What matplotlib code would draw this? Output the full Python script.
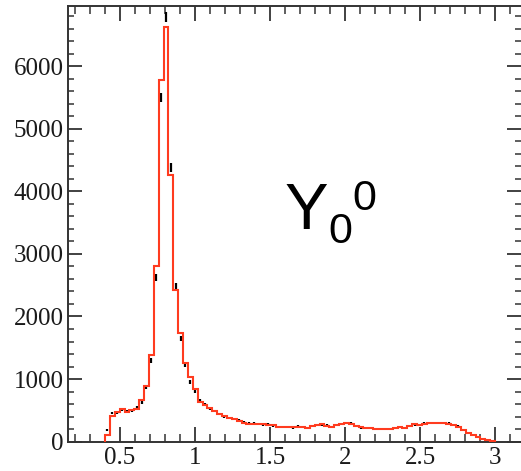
import numpy as np
import matplotlib
matplotlib.use("Agg")
import matplotlib.pyplot as plt
from matplotlib.ticker import MultipleLocator

# ---- data ----
bin_lo = 0.4
bin_hi = 3.0
n_bins = 80

fit_counts = [100, 415, 480, 530, 470, 505, 520, 660, 885, 1390,
              2805, 5770, 6630, 4265, 2430, 1729, 1260, 1037, 836, 638,
              590, 540, 495, 440, 410, 375, 365, 330, 300, 290,
              290, 280, 275, 270, 265, 235, 235, 230, 230, 240,
              230, 215, 250, 265, 275, 250, 230, 260, 290, 295,
              290, 250, 230, 225, 225, 200, 200, 195, 200, 220,
              230, 215, 250, 275, 260, 285, 295, 295, 300, 300,
              285, 270, 240, 190, 140, 100, 75, 50, 30, 15]

data_counts = [190, 460, 470, 520, 490, 500, 545, 630, 870, 1300,
               2620, 5500, 6780, 4380, 2480, 1650, 1230, 950, 800, 650,
               590, 530, 490, 440, 400, 380, 365, 340, 310, 290,
               300, 285, 270, 275, 255, 240, 235, 240, 225, 245,
               240, 225, 245, 265, 275, 260, 240, 265, 285, 300,
               290, 255, 225, 220, 225, 205, 205, 200, 205, 215,
               235, 220, 255, 270, 265, 290, 295, 300, 295, 295,
               290, 265, 245, 185, 145, 105, 80, 55, 30, 20]

x_ticks = [0.5, 1, 1.5, 2, 2.5, 3]
x_tick_labels = ["0.5", "1", "1.5", "2", "2.5", "3"]
y_ticks = [0, 1000, 2000, 3000, 4000, 5000, 6000]
y_tick_labels = ["0", "1000", "2000", "3000", "4000", "5000", "6000"]

# ---- figure ----
W, H = 521, 471
fig = plt.figure(figsize=(W / 100, H / 100), dpi=100)
ax = fig.add_axes([68 / W, (H - 441.7) / H, (W - 68) / W, (441.7 - 6) / H])

edges = np.linspace(bin_lo, bin_hi, n_bins + 1)
centers = 0.5 * (edges[:-1] + edges[1:])
data = np.array(data_counts, dtype=float)

ax.stairs(fit_counts, edges, baseline=0, color="#ff3b1f", linewidth=1.5, zorder=3)
ax.errorbar(centers, data, yerr=np.sqrt(data), fmt="none", ecolor="black",
            elinewidth=1.6, capsize=0, zorder=2)

ax.set_xlim(0.1533, 3.173)
ax.set_ylim(0, 6960)

ax.set_xticks(x_ticks)
ax.set_xticklabels(x_tick_labels)
ax.set_yticks(y_ticks)
ax.set_yticklabels(y_tick_labels)
ax.xaxis.set_minor_locator(MultipleLocator(0.1))
ax.yaxis.set_minor_locator(MultipleLocator(200))

for lab in ax.get_xticklabels() + ax.get_yticklabels():
    lab.set_fontfamily("Liberation Serif")
    lab.set_fontsize(18)
    lab.set_color("#1a1a1a")

ax.tick_params(axis="x", which="major", direction="in", length=11, width=1.3,
               top=True, bottom=True, pad=4, color="#333333")
ax.tick_params(axis="x", which="minor", direction="in", length=5.5, width=1.1,
               top=True, bottom=True, color="#333333")
ax.tick_params(axis="y", which="major", direction="in", length=10, width=1.3,
               left=True, right=True, pad=3, color="#333333")
ax.tick_params(axis="y", which="minor", direction="in", length=4.5, width=1.1,
               left=True, right=True, color="#333333")
for s in ax.spines.values():
    s.set_linewidth(1.4)
    s.set_color("#333333")
ax.spines["right"].set_visible(False)

# Y_0^0 label
fig.text(285 / W, 1 - 229 / H, "Y", fontsize=47, family="Liberation Sans",
         ha="left", va="baseline", color="black")
fig.text(328 / W, 1 - 243 / H, "0", fontsize=31, family="Liberation Sans",
         ha="left", va="baseline", color="black")
fig.text(352 / W, 1 - 210 / H, "0", fontsize=31, family="Liberation Sans",
         ha="left", va="baseline", color="black")

fig.savefig("out.png", dpi=100)
